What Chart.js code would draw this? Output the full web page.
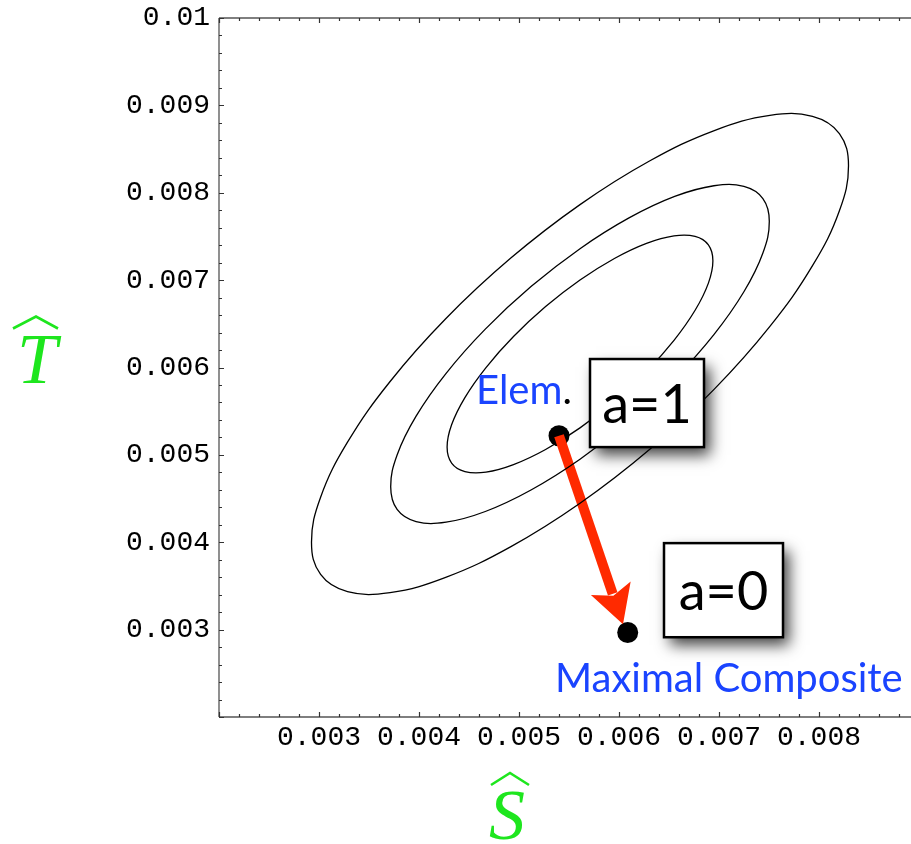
<!DOCTYPE html>
<html><head><meta charset="utf-8">
<script src="https://cdn.jsdelivr.net/npm/chart.js@4/dist/chart.umd.min.js"></script>
<style>html,body{margin:0;padding:0;background:#fff;overflow:hidden;width:911px;height:844px}canvas{display:block}</style>
</head><body>
<canvas id="c" width="911" height="844" style="width:911px;height:844px"></canvas>
<script>
// ---- data ----
const outerX = [0.008295,0.008204,0.007935,0.007509,0.006953,0.006305,0.00561,0.004915,0.004267,0.003711,0.003285,0.003016,0.002925,0.003016,0.003285,0.003711,0.004267,0.004915,0.00561,0.006305,0.006953,0.007509,0.007935,0.008204];
const outerY = [0.008309,0.007794,0.007165,0.00647,0.005752,0.005061,0.004446,0.003947,0.003598,0.003424,0.003435,0.003632,0.004001,0.004516,0.005145,0.00584,0.006558,0.007249,0.007864,0.008363,0.008712,0.008886,0.008875,0.008678];
const middleX = [0.007503,0.007439,0.007249,0.006949,0.006557,0.0061,0.00561,0.00512,0.004663,0.004271,0.003971,0.003781,0.003717,0.003781,0.003971,0.004271,0.004663,0.00512,0.00561,0.0061,0.006557,0.006949,0.007249,0.007439];
const middleY = [0.007674,0.007311,0.006867,0.006377,0.005871,0.005384,0.00495,0.004598,0.004352,0.00423,0.004237,0.004376,0.004636,0.004999,0.005443,0.005933,0.006439,0.006926,0.00736,0.007712,0.007958,0.00808,0.008073,0.007934];
const innerX = [0.006939,0.006894,0.006761,0.00655,0.006275,0.005954,0.00561,0.005266,0.004945,0.00467,0.004459,0.004326,0.004281,0.004326,0.004459,0.00467,0.004945,0.005266,0.00561,0.005954,0.006275,0.00655,0.006761,0.006894];
const innerY = [0.007221,0.006966,0.006655,0.006311,0.005956,0.005613,0.005309,0.005062,0.004889,0.004803,0.004809,0.004906,0.005089,0.005344,0.005655,0.005999,0.006354,0.006697,0.007001,0.007248,0.007421,0.007507,0.007501,0.007404];

const pointNames = ['Elem.', 'Maximal Composite'];
const pointX = [0.0054, 0.006087];
const pointY = [0.005219, 0.002967];

const arrowX = [0.0054, 0.00604];   // from Elem. to arrow tip
const arrowY = [0.005219, 0.003062];

const boxTexts = ['a=1', 'a=0'];
const boxX0 = [0.00571, 0.00645];
const boxX1 = [0.00685, 0.00764];
const boxYTop = [0.006097, 0.00399];
const boxYBot = [0.005089, 0.002913];

const xTickValues = [0.003,0.004,0.005,0.006,0.007,0.008];
const xTickLabels = ['0.003','0.004','0.005','0.006','0.007','0.008'];
const yTickValues = [0.003,0.004,0.005,0.006,0.007,0.008,0.009,0.01];
const yTickLabels = ['0.003','0.004','0.005','0.006','0.007','0.008','0.009','0.01'];
const xTitle = 'S';
const yTitle = 'T';
const X_MIN = 0.002, X_MAX = 0.00892, Y_MIN = 0.002, Y_MAX = 0.01;

// ---- helpers ----
const toPts = (xs, ys) => xs.map((x, i) => ({x, y: ys[i]}));
function ring(xs, ys) { const p = toPts(xs, ys); const n = p.length; return [p[n-1], ...p, p[0], p[1]]; }
function ellipseDS(xs, ys) {
  const d = ring(xs, ys); const last = d.length - 1;
  return { data: d, showLine: true, tension: 0.4, borderColor: '#000', borderWidth: 1.3,
    pointRadius: 0, pointHoverRadius: 0, fill: false,
    segment: { borderColor: c => (c.p0DataIndex === 0 || c.p1DataIndex === last) ? 'rgba(0,0,0,0)' : undefined } };
}
function labelFor(values, labels) {
  return v => { for (let i = 0; i < values.length; i++) if (Math.abs(values[i] - v) < 1e-7) return labels[i]; return ''; };
}
const isMajor = v => Math.abs(v * 1000 - Math.round(v * 1000)) < 1e-6;
function noPad(s) { s.paddingTop = 0; s.paddingBottom = 0; s.paddingLeft = 0; s.paddingRight = 0; }
function minorTicks(s, lo, hi) { s.ticks = []; for (let i = 0; lo + i * 0.0002 <= hi + 1e-9; i++) s.ticks.push({value: +(lo + i * 0.0002).toFixed(5)}); }

const BLUE = '#1a44ff', GREEN = '#1ee61e', RED = '#ff2a00';

// make the plot area reach the right edge of the canvas (frame is cut there)
const fixArea = {
  id: 'fixArea',
  afterLayout(chart) {
    const x = chart.scales.x, R = chart.width;
    x.right = R; x.width = R - x.left; x.configure();
    chart.chartArea.right = R; chart.chartArea.width = R - chart.chartArea.left;
  }
};

const framePlugin = {
  id: 'frame',
  beforeDatasetsDraw(chart) {
    const {ctx, chartArea: a, scales: {x, y}} = chart;
    ctx.save();
    ctx.strokeStyle = '#555'; ctx.lineWidth = 1.3;
    ctx.beginPath();
    ctx.moveTo(a.left, a.bottom); ctx.lineTo(a.right + 2, a.bottom);
    ctx.moveTo(a.left, a.bottom); ctx.lineTo(a.left, a.top);
    ctx.moveTo(a.left, a.top); ctx.lineTo(a.right + 2, a.top);
    ctx.stroke();
    ctx.lineWidth = 1.2; ctx.strokeStyle = '#333';
    ctx.beginPath();
    x.ticks.forEach(t => {
      const px = Math.round(x.getPixelForValue(t.value)) + 0.5;
      const len = isMajor(t.value) ? 5 : 3;
      ctx.moveTo(px, a.bottom); ctx.lineTo(px, a.bottom - len);
      ctx.moveTo(px, a.top); ctx.lineTo(px, a.top + len);
    });
    y.ticks.forEach(t => {
      const py = Math.round(y.getPixelForValue(t.value)) + 0.5;
      const len = isMajor(t.value) ? 5 : 3;
      ctx.moveTo(a.left, py); ctx.lineTo(a.left + len, py);
    });
    ctx.stroke();
    // axis titles with wide hats
    ctx.fillStyle = GREEN; ctx.strokeStyle = GREEN;
    ctx.font = 'italic 72px "Liberation Serif", "DejaVu Serif", serif';
    ctx.textAlign = 'center'; ctx.textBaseline = 'alphabetic';
    const sx = x.getPixelForValue(0.00488);
    ctx.fillText(xTitle, sx, 839);
    const ty = y.getPixelForValue(0.00608);
    ctx.fillText(yTitle, 37, ty + 22);
    ctx.lineWidth = 2.6; ctx.lineJoin = 'miter';
    ctx.beginPath();
    ctx.moveTo(sx - 16, 785); ctx.lineTo(sx + 3, 773); ctx.lineTo(sx + 22, 785);
    ctx.moveTo(13, ty - 32); ctx.lineTo(36, ty - 44); ctx.lineTo(58, ty - 32);
    ctx.stroke();
    ctx.restore();
  },
  afterDatasetDraw(chart, args) {
    if (args.index !== 2) return;
    const {ctx, scales: {x, y}} = chart;
    const x0 = x.getPixelForValue(arrowX[0]), y0 = y.getPixelForValue(arrowY[0]);
    const x1 = x.getPixelForValue(arrowX[1]), y1 = y.getPixelForValue(arrowY[1]);
    const dx = x1 - x0, dy = y1 - y0, L = Math.hypot(dx, dy);
    const ux = dx / L, uy = dy / L, nx = -uy, ny = ux;
    const headLen = 38, halfW = 21, notch = 30;
    ctx.save();
    ctx.strokeStyle = RED; ctx.fillStyle = RED; ctx.lineWidth = 10; ctx.lineCap = 'butt';
    ctx.beginPath();
    ctx.moveTo(x0, y0); ctx.lineTo(x1 - ux * (notch + 2), y1 - uy * (notch + 2));
    ctx.stroke();
    const bx = x1 - ux * headLen, by = y1 - uy * headLen;
    ctx.beginPath();
    ctx.moveTo(x1, y1);
    ctx.lineTo(bx + nx * halfW, by + ny * halfW);
    ctx.lineTo(x1 - ux * notch, y1 - uy * notch);
    ctx.lineTo(bx - nx * halfW, by - ny * halfW);
    ctx.closePath(); ctx.fill();
    ctx.restore();
  },
  afterDatasetsDraw(chart) {
    const {ctx, scales: {x, y}} = chart;
    ctx.save();
    for (let i = 0; i < boxTexts.length; i++) {
      const l = x.getPixelForValue(boxX0[i]), r = x.getPixelForValue(boxX1[i]);
      const t = y.getPixelForValue(boxYTop[i]), b = y.getPixelForValue(boxYBot[i]);
      ctx.save();
      ctx.shadowColor = 'rgba(0,0,0,0.75)'; ctx.shadowBlur = 14; ctx.shadowOffsetX = 6; ctx.shadowOffsetY = 8;
      ctx.fillStyle = '#fff'; ctx.fillRect(l, t, r - l, b - t);
      ctx.restore();
      ctx.strokeStyle = '#000'; ctx.lineWidth = 2.5; ctx.strokeRect(l, t, r - l, b - t);
      ctx.fillStyle = '#000'; ctx.font = '54px Lato, "Open Sans", sans-serif';
      ctx.textAlign = 'center'; ctx.textBaseline = 'alphabetic';
      ctx.fillText(boxTexts[i], (l + r) / 2, (t + b) / 2 + 20);
    }
    ctx.font = '40px Lato, "Open Sans", sans-serif'; ctx.textAlign = 'left'; ctx.textBaseline = 'alphabetic';
    const ex = x.getPixelForValue(0.00457), ey = y.getPixelForValue(0.005582);
    const base = pointNames[0].replace(/\.$/, '');
    ctx.fillStyle = BLUE; ctx.fillText(base, ex, ey);
    ctx.fillStyle = '#000'; ctx.fillText('.', ex + ctx.measureText(base).width, ey);
    ctx.fillStyle = BLUE;
    ctx.fillText(pointNames[1], x.getPixelForValue(0.00536), y.getPixelForValue(0.002283));
    ctx.restore();
  }
};

const tickFont = {family: '"Liberation Mono", "Courier New", monospace', size: 28};

new Chart(document.getElementById('c'), {
  type: 'scatter',
  data: { datasets: [
    ellipseDS(outerX, outerY),
    ellipseDS(middleX, middleY),
    ellipseDS(innerX, innerY),
    { data: toPts(pointX, pointY), showLine: false, pointRadius: 10.5, pointHoverRadius: 10.5,
      pointBackgroundColor: '#000', pointBorderWidth: 0, borderColor: '#000' }
  ]},
  options: {
    responsive: false, devicePixelRatio: 1, animation: false,
    layout: { padding: { top: 18, right: 0, left: 0, bottom: 0 } },
    plugins: { legend: { display: false }, tooltip: { enabled: false } },
    events: [],
    scales: {
      x: { type: 'linear', min: X_MIN, max: X_MAX,
        grid: { display: false, drawTicks: false }, border: { display: false },
        afterBuildTicks: s => minorTicks(s, X_MIN, X_MAX),
        afterFit: s => { s.height = 127; noPad(s); },
        ticks: { autoSkip: false, maxRotation: 0, minRotation: 0, padding: 4, color: '#000', font: tickFont,
          callback: labelFor(xTickValues, xTickLabels) } },
      y: { type: 'linear', min: Y_MIN, max: Y_MAX,
        grid: { display: false, drawTicks: false }, border: { display: false },
        afterBuildTicks: s => minorTicks(s, Y_MIN, Y_MAX),
        afterFit: s => { s.width = 219; noPad(s); },
        ticks: { autoSkip: false, padding: 9, color: '#000', font: tickFont,
          callback: labelFor(yTickValues, yTickLabels) } }
    }
  },
  plugins: [fixArea, framePlugin]
});
</script>
</body></html>
